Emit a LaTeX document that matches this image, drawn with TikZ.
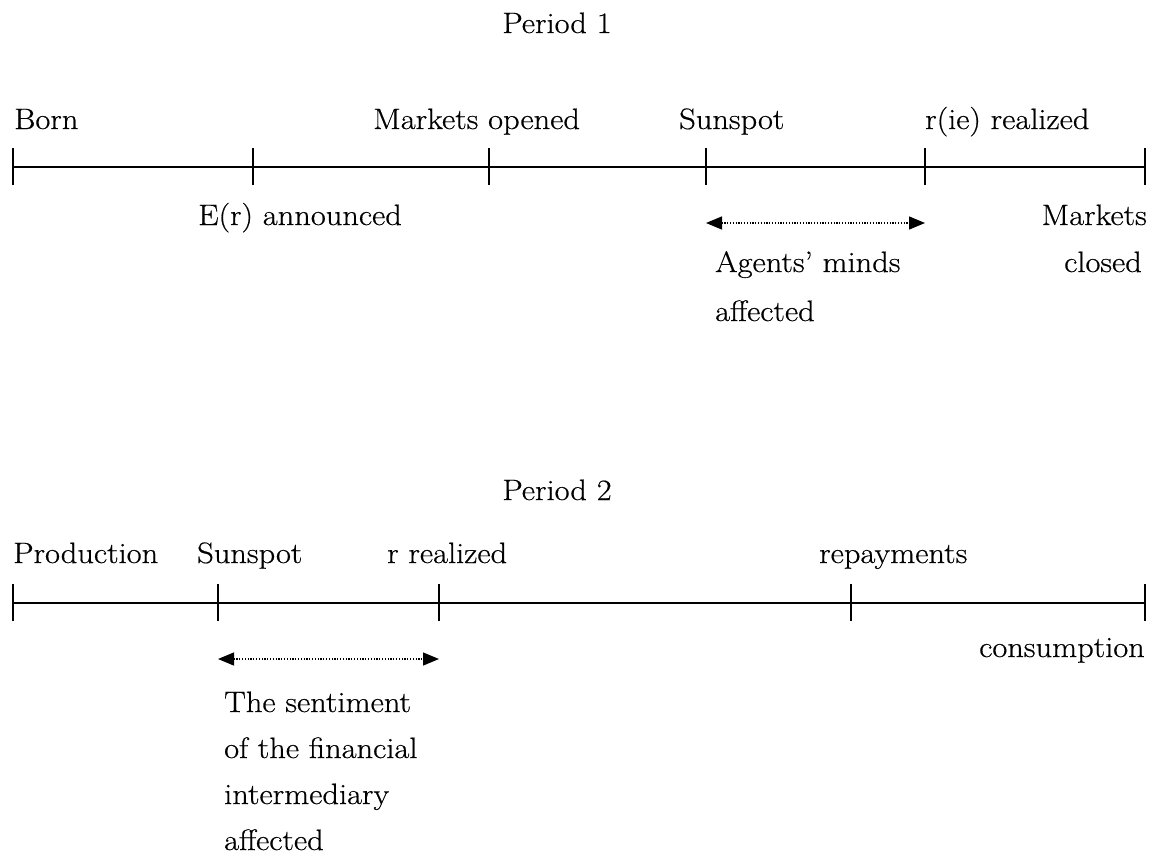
\documentclass[tikz,border=0pt]{standalone}
\usepackage{fontspec}
\setmainfont{Latin Modern Roman}[FakeStretch=1.1,FakeBold=0.5]
\usetikzlibrary{arrows.meta,calc}
\begin{document}
\begin{tikzpicture}[x=1pt,y=-1pt,
  lbl/.style={inner sep=0pt,font=\fontsize{29.5}{35}\selectfont},
  axis/.style={line width=1.7pt},
  tick/.style={line width=1.7pt},
  span/.style={line width=1.4pt,dash pattern=on 1.2pt off 1.6pt,
    {Triangle[length=16pt,width=13pt]}-{Triangle[length=16pt,width=13pt]}}
]
\useasboundingbox (0,0) rectangle (1158,856);

% ---------- Period 1 ----------
\node[lbl,anchor=base] (p1) at (557,33) {Period 1};

\coordinate (a0) at (13,167);
\coordinate (a1) at (253,167);
\coordinate (a2) at (489,167);
\coordinate (a3) at (706,167);
\coordinate (a4) at (925,167);
\coordinate (a5) at (1145,167);
\draw[axis] (a0) -- (a5);
\foreach \t in {a0,a1,a2,a3,a4,a5}
  \draw[tick] ($(\t)+(0,-19)$) -- ($(\t)+(0,18)$);

\node[lbl,anchor=base west] (born) at (14,129) {Born};
\node[lbl,anchor=base west] (mo) at (373,129) {Markets opened};
\node[lbl,anchor=base west] (ss1) at (679,129) {Sunspot};
\node[lbl,anchor=base west] (rie) at (925,129) {r(ie) realized};

\node[lbl,anchor=base west] (er) at (198,225) {E(r) announced};
\node[lbl,anchor=base east] (mc1) at (1147,225) {Markets};
\node[lbl,anchor=base east] (mc2) at (1142,272) {closed};

\coordinate (s1a) at (706,223);
\coordinate (s1b) at (925,223);
\draw[span] (s1a) -- (s1b);
\node[lbl,anchor=base west] (am1) at (715,272) {Agents' minds};
\node[lbl,anchor=base west] (am2) at (715,321) {affected};

% ---------- Period 2 ----------
\node[lbl,anchor=base] (p2) at (557,500) {Period 2};

\coordinate (b0) at (13,603);
\coordinate (b1) at (218,603);
\coordinate (b2) at (439,603);
\coordinate (b3) at (851,603);
\coordinate (b4) at (1145,603);
\draw[axis] (b0) -- (b4);
\foreach \t in {b0,b1,b2,b3,b4}
  \draw[tick] ($(\t)+(0,-19)$) -- ($(\t)+(0,18)$);

\node[lbl,anchor=base west] (prod) at (13,563) {Production};
\node[lbl,anchor=base west] (ss2) at (197,563) {Sunspot};
\node[lbl,anchor=base west] (rr) at (387,563) {r realized};
\node[lbl,anchor=base west] (rep) at (819,563) {repayments};
\node[lbl,anchor=base east] (cons) at (1145,657) {consumption};

\coordinate (s2a) at (218,659);
\coordinate (s2b) at (439,659);
\draw[span] (s2a) -- (s2b);
\node[lbl,anchor=base west] (se1) at (224,712) {The sentiment};
\node[lbl,anchor=base west] (se2) at (224,758) {of the financial};
\node[lbl,anchor=base west] (se3) at (224,804) {intermediary};
\node[lbl,anchor=base west] (se4) at (224,850) {affected};
\end{tikzpicture}
\end{document}
